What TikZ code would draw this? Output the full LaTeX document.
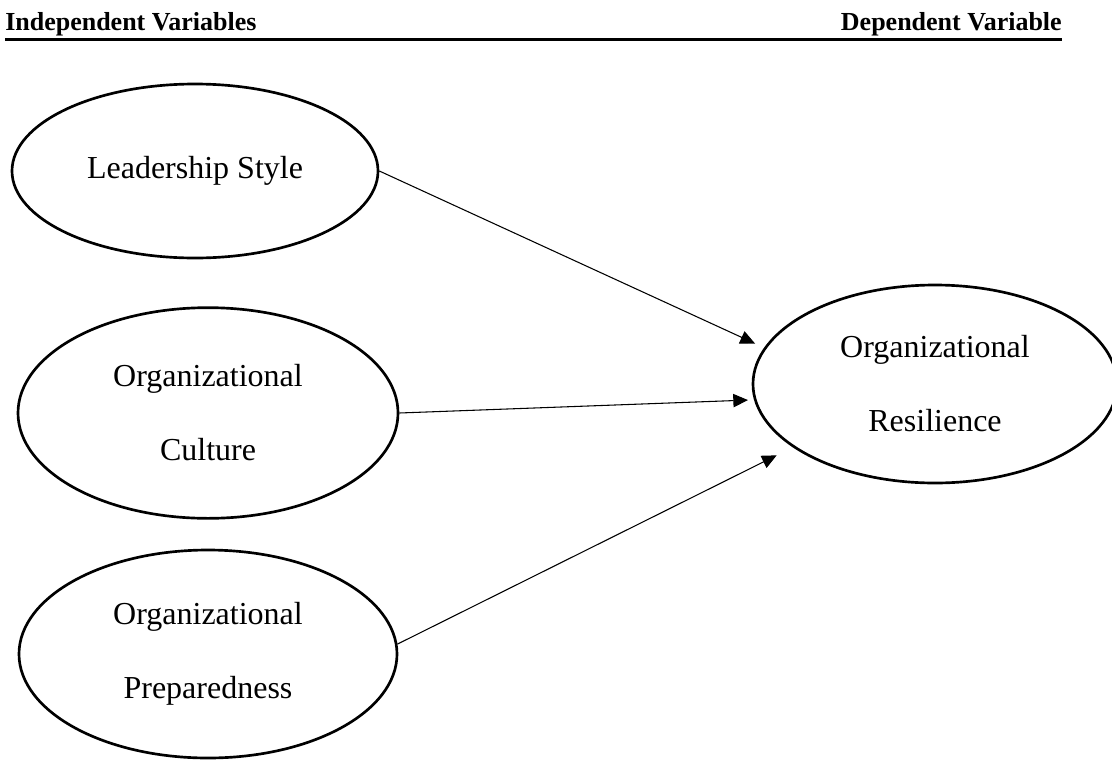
\documentclass[tikz,border=0pt]{standalone}
\usepackage{fontspec}
\setmainfont{Liberation Serif}
\usetikzlibrary{arrows.meta,shapes.geometric}
\definecolor{ink}{HTML}{000000}
\tikzset{
  var/.style={ellipse, draw=ink, line width=2pt, inner sep=0pt, align=center, font=\fontsize{24}{28}\selectfont},
  arr/.style={-{Triangle[length=11pt,width=10pt]}, draw=ink, line width=0.8pt},
  head/.style={font=\fontsize{19.5}{22}\selectfont\bfseries, inner sep=0pt},
  hrule/.style={draw=ink, line width=2.4pt}
}
\begin{document}
\begin{tikzpicture}[x=0.75pt,y=-0.75pt]
  \useasboundingbox (0,0) rectangle (1112,760);
  % header
  \node[head, anchor=base west] (indep) at (5,30) {Independent Variables};
  \node[head, anchor=base east] (dep) at (1062,30) {Dependent Variable};
  \draw[hrule] ([yshift=-7pt]indep.base west) -- ([yshift=-7pt]dep.base east);
  % variables
  \node[var, minimum width=274.5pt, minimum height=130.5pt] (lead) at (195,171) {Leadership Style};
  \node[var, minimum width=285pt, minimum height=158pt] (cult) at (208,413) {Organizational\\[27.5pt]Culture};
  \node[var, minimum width=283.5pt, minimum height=156pt] (prep) at (208,654) {Organizational\\[27.5pt]Preparedness};
  \node[var, minimum width=273pt, minimum height=148.5pt] (res) at (935,384) {Organizational\\[27.5pt]Resilience};
  % paths
  \draw[arr, shorten >=7.5pt] (lead.east) -- (res.168.6);
  \draw[arr, shorten >=4.5pt] (cult.east) -- (res.185.7);
  \draw[arr, shorten >=13.5pt] (prep.3) -- (res.204.8);
\end{tikzpicture}
\end{document}
